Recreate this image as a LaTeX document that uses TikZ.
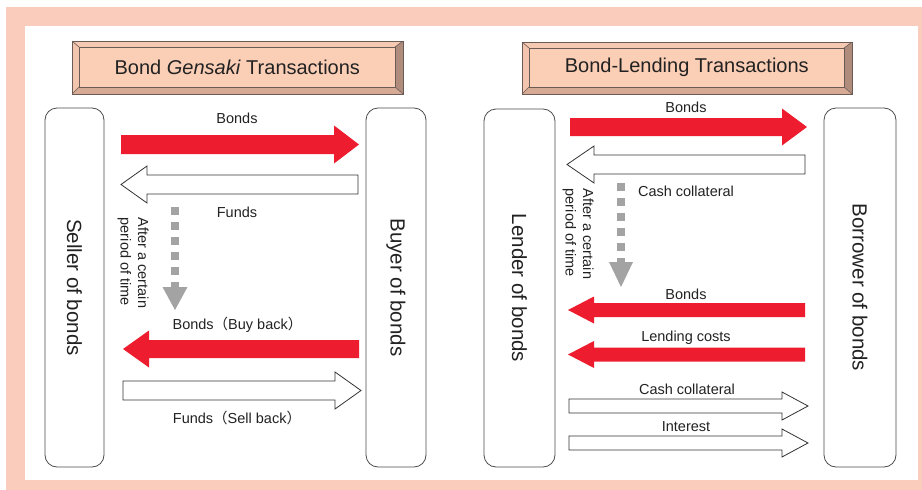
\documentclass[tikz,border=0pt]{standalone}
\usepackage{fontspec}
\setmainfont{Liberation Sans}
\newfontfamily\cjk{Noto Sans CJK JP}
\usetikzlibrary{calc}
\definecolor{bgpeach}{HTML}{F9CCBC}
\definecolor{tface}{HTML}{FBCEB6}
\definecolor{tleft}{HTML}{F3C5AE}
\definecolor{ttop}{HTML}{F6C9B2}
\definecolor{tright}{HTML}{B08C7D}
\definecolor{tbottom}{HTML}{D7AA96}
\definecolor{tline}{HTML}{6B5B55}
\definecolor{bred}{HTML}{ED1C2E}
\definecolor{dgray}{HTML}{A3A3A3}
\definecolor{txt}{HTML}{222222}
\newcommand{\blockarr}[7]{%
  \pgfmathsetmacro{\xb}{#3>#2 ? #3-#7 : #3+#7}%
  \draw[#1] (#2,#4-#5) -- (\xb,#4-#5) -- (\xb,#4-#6) -- (#3,#4) -- (\xb,#4+#6) -- (\xb,#4+#5) -- (#2,#4+#5) -- cycle;}
\newcommand{\titlebox}[6]{%
  \fill[tleft] (#1,#2) -- (#1+7,#2+6) -- (#1+7,#4-7) -- (#1,#4) -- cycle;
  \fill[ttop] (#1,#2) -- (#3,#2) -- (#3-8,#2+6) -- (#1+7,#2+6) -- cycle;
  \fill[tright] (#3,#2) -- (#3,#4) -- (#3-8,#4-7) -- (#3-8,#2+6) -- cycle;
  \fill[tbottom] (#1,#4) -- (#3,#4) -- (#3-8,#4-7) -- (#1+7,#4-7) -- cycle;
  \draw[tline, line width=0.6pt] (#1,#2) -- (#1+7,#2+6) (#3,#2) -- (#3-8,#2+6) (#1,#4) -- (#1+7,#4-7) (#3,#4) -- (#3-8,#4-7);
  \node[draw=tline, line width=0.6pt, fill=tface, minimum width={#3-#1-15}, minimum height={#4-#2-13}, inner sep=0pt, anchor=north west, font=\fontsize{20}{24}\selectfont, text=txt] (#5) at (#1+7,#2+6) {#6};
  \draw[tline, line width=0.8pt] (#1,#2) rectangle (#3,#4);}
\tikzset{
  party/.style={draw=black!70, line width=0.8pt, rounded corners=12pt, rotate=-90, inner sep=0pt, font=\fontsize{20.5}{24}\selectfont, text=txt},
  lbl/.style={font=\fontsize{14.5}{17.5}\selectfont, text=txt, inner sep=1pt},
  redarr/.style={fill=bred, draw=none},
  whitearr/.style={fill=white, draw=black!80, line width=0.8pt},
  dashline/.style={draw=dgray, line width=8pt, dash pattern=on 8pt off 7pt},
}
\begin{document}
\begin{tikzpicture}[x=1pt,y=-1pt]
\useasboundingbox (0,0) rectangle (922,490);
\fill[white] (0,0) rectangle (922,490);
\fill[bgpeach] (6,7) rectangle (922,490);
\fill[white] (25,26) rectangle (918,480);

% titles
\titlebox{72}{41}{403}{94}{t1}{Bond \textit{Gensaki} Transactions}
\titlebox{522}{42}{852}{94}{t2}{Bond-Lending Transactions}

% parties
\node[party, minimum width=359pt, minimum height=59pt] (seller) at (74.5,287.5) {Seller of bonds};
\node[party, minimum width=359pt, minimum height=60pt] (buyer) at (396,287.5) {Buyer of bonds};
\node[party, minimum width=358pt, minimum height=71pt] (lender) at (519.5,288) {Lender of bonds};
\node[party, minimum width=359pt, minimum height=72pt] (borrower) at (860,287.5) {Borrower of bonds};

% left diagram arrows
\blockarr{redarr}{121}{359}{144.5}{9.5}{19}{25}
\node[lbl] (l1) at (237,118) {Bonds};
\blockarr{whitearr}{358}{121}{184.5}{9.5}{18.5}{26}
\node[lbl] (l2) at (237,212) {Funds};
\draw[dashline] (175,207) -- (175,287);
\fill[dgray] (162.5,287) -- (187.5,287) -- (175,310) -- cycle;
\node[lbl, rotate=-90, align=left] (l3) at (133,263) {After a certain\\period of time};
\node[lbl] (l4) at (237.5,325) {Bonds{\cjk （}Buy back{\cjk ）}};
\blockarr{redarr}{359}{123}{349}{9}{18.5}{26}
\blockarr{whitearr}{123}{361}{390.5}{9.5}{18.5}{26}
\node[lbl] (l5) at (237,418) {Funds{\cjk （}Sell back{\cjk ）}};

% right diagram arrows
\node[lbl] (r1) at (686,107) {Bonds};
\blockarr{redarr}{570}{807}{127}{9}{18.5}{25}
\blockarr{whitearr}{805}{567}{164.5}{9.5}{18.5}{27}
\node[lbl] (r2) at (686,191) {Cash collateral};
\draw[dashline] (621,183) -- (621,262);
\fill[dgray] (609,262) -- (633,262) -- (621,287) -- cycle;
\node[lbl, rotate=-90, align=left] (r3) at (578,234) {After a certain\\period of time};
\node[lbl] (r4) at (686,294) {Bonds};
\blockarr{redarr}{805}{568}{310}{7}{13.5}{26}
\node[lbl] (r5) at (686,338) {Lending costs};
\blockarr{redarr}{805}{568}{354.5}{7}{13.5}{26}
\node[lbl] (r6) at (687,389) {Cash collateral};
\blockarr{whitearr}{569}{808}{406}{7}{14}{26}
\node[lbl] (r7) at (686,427) {Interest};
\blockarr{whitearr}{569}{808}{443}{7}{14}{26}
\end{tikzpicture}
\end{document}
